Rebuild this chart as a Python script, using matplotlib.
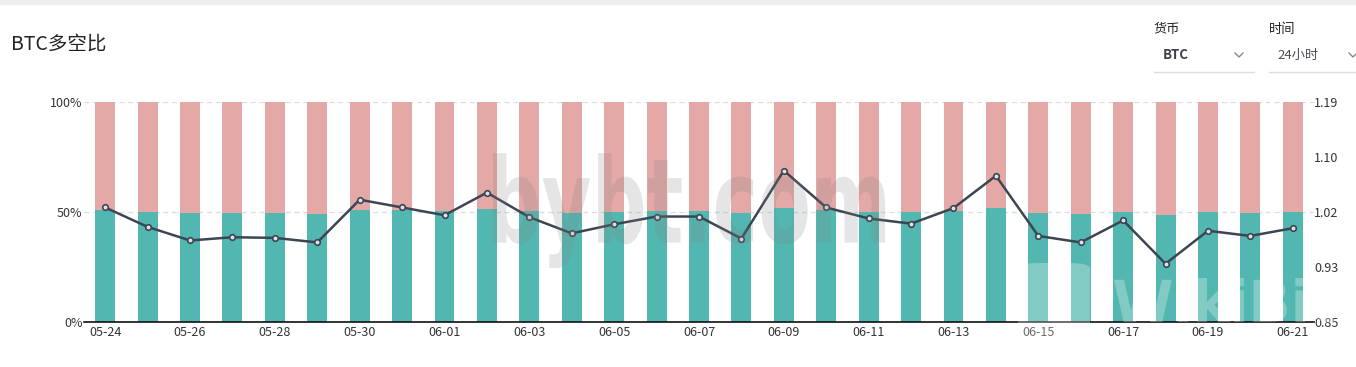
import matplotlib.pyplot as plt
from matplotlib.patches import FancyBboxPatch, PathPatch
from matplotlib.textpath import TextPath
from matplotlib.font_manager import FontProperties
from matplotlib.transforms import Affine2D, IdentityTransform

plt.rcParams['font.family'] = ['Noto Sans CJK SC', 'DejaVu Sans']

dates = ['05-24', '05-25', '05-26', '05-27', '05-28', '05-29', '05-30', '05-31',
         '06-01', '06-02', '06-03', '06-04', '06-05', '06-06', '06-07', '06-08',
         '06-09', '06-10', '06-11', '06-12', '06-13', '06-14', '06-15', '06-16',
         '06-17', '06-18', '06-19', '06-20', '06-21']
# long share in percent (green part of each bar)
long_pct = [50.7, 49.9, 49.4, 49.5, 49.5, 49.3, 51.0, 50.7, 50.4, 51.2,
            50.3, 49.7, 50.0, 50.3, 50.3, 49.5, 52.0, 50.7, 50.2, 50.0,
            50.6, 51.8, 49.6, 49.3, 50.2, 48.5, 49.8, 49.6, 49.9]
short_pct = [100 - v for v in long_pct]
# long/short ratio (line, right axis)
ratio = [1.027, 0.997, 0.976, 0.981, 0.980, 0.973, 1.039, 1.027, 1.015, 1.050,
         1.012, 0.987, 1.001, 1.013, 1.013, 0.979, 1.084, 1.027, 1.010, 1.002,
         1.026, 1.076, 0.983, 0.973, 1.007, 0.940, 0.991, 0.983, 0.995]
right_ticks = [0.85, 0.935, 1.02, 1.105, 1.19]
right_labels = ['0.85', '0.93', '1.02', '1.10', '1.19']

green = '#52b7b0'
pink = '#e4a9a7'
line_col = '#3e4552'
txt = '#333333'

W, H = 1356, 367
fig = plt.figure(figsize=(W / 100, H / 100), dpi=100)


def boxed_text(s, left, top, right, bottom, color, alpha, weight='bold'):
    # text path stretched into a pixel box (top-left origin coords)
    tp = TextPath((0, 0), s, size=100, prop=FontProperties(family='DejaVu Sans', weight=weight))
    ext = tp.get_extents()
    sx = (right - left) / ext.width
    sy = (bottom - top) / ext.height
    tr = Affine2D().translate(-ext.x0, -ext.y0).scale(sx, sy).translate(left, H - bottom)
    p = PathPatch(tr.transform_path(tp), transform=IdentityTransform(), facecolor=color,
                  edgecolor='none', alpha=alpha, zorder=10)
    fig.patches.append(p)


# grey strip at the top of the page
fig.patches.append(plt.Rectangle((0, 1 - 4 / H), 1, 4 / H, transform=fig.transFigure,
                                 color='#eeeeee', zorder=0))

ax = fig.add_axes([84 / W, 45 / H, (1314 - 84) / W, 220 / H])
x = list(range(len(dates)))
ax.bar(x, long_pct, width=0.47, color=green, zorder=2)
ax.bar(x, short_pct, bottom=long_pct, width=0.47, color=pink, zorder=2)
ax.set_xlim(-0.5, len(dates) - 0.5)
ax.set_ylim(0, 100)
ax.set_yticks([0, 50, 100])
ax.set_yticklabels(['0%', '50%', '100%'])
for yv in (50, 100):
    ax.axhline(yv, color='#dddddd', linestyle=(0, (4, 3)), linewidth=0.9, zorder=1)
ax.set_xticks(x[::2])
ax.set_xticklabels(dates[::2])
for s in ('top', 'right', 'left'):
    ax.spines[s].set_visible(False)
ax.spines['bottom'].set_color('#111111')
ax.spines['bottom'].set_linewidth(1.2)
ax.tick_params(axis='y', length=0, pad=1, labelsize=9, labelcolor=txt)
ax.tick_params(axis='x', length=0, pad=3, labelsize=9, labelcolor=txt)

ax2 = ax.twinx()
ax2.plot(x, ratio, color=line_col, linewidth=1.8, marker='o', markersize=4,
         markerfacecolor='#dfe3e8', markeredgecolor=line_col, markeredgewidth=1.2, zorder=5)
ax2.set_ylim(0.85, 1.19)
ax2.set_yticks(right_ticks)
ax2.set_yticklabels(right_labels)
for s in ('top', 'right', 'left', 'bottom'):
    ax2.spines[s].set_visible(False)
ax2.tick_params(axis='y', length=0, pad=0, labelsize=9, labelcolor=txt)

# title and selectors
fig.text(11 / W, 1 - 44 / H, 'BTC多空比', fontsize=14, color='#222222', va='center', ha='left')
fig.text(1154 / W, 1 - 30 / H, '货币', fontsize=9.5, color='#222222', va='center')
fig.text(1163 / W, 1 - 55 / H, 'BTC', fontsize=9.5, color='#3a3f4a', va='center', fontweight='bold')
fig.text(1269 / W, 1 - 30 / H, '时间', fontsize=9.5, color='#222222', va='center')
fig.text(1277 / W, 1 - 55 / H, '24小时', fontsize=9.5, color='#4a4f5a', va='center', fontweight='medium')
for cx in (1239, 1353):
    fig.add_artist(plt.Line2D([(cx - 4) / W, cx / W, (cx + 4) / W],
                              [1 - 53 / H, 1 - 57 / H, 1 - 53 / H], color='#888888', linewidth=1))
fig.add_artist(plt.Line2D([1154 / W, 1254 / W], [1 - 72 / H] * 2, color='#dddddd', linewidth=1))
fig.add_artist(plt.Line2D([1269 / W, 1356 / W], [1 - 72 / H] * 2, color='#dddddd', linewidth=1))

# watermarks
boxed_text('bybt.com', 493, 153, 885, 268, '#808080', 0.2)
logo = FancyBboxPatch((1018 / W, 1 - 343 / H), 72 / W, 80 / H,
                      boxstyle='round,pad=0,rounding_size=0.015', transform=fig.transFigure,
                      facecolor='white', edgecolor='none', alpha=0.28, zorder=10)
fig.patches.append(logo)
boxed_text('WikiBit', 1114, 278, 1335, 322, 'white', 0.28)

fig.savefig('out.png', dpi=100)
